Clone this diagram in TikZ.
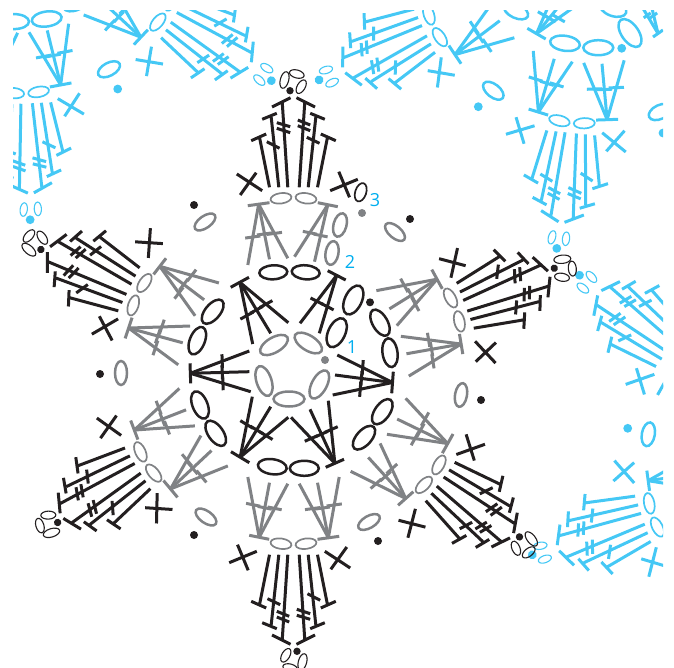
\documentclass[tikz,border=0pt]{standalone}
\usepackage{fontspec}
\setsansfont{Open Sans}
\usetikzlibrary{calc}
\definecolor{ink}{RGB}{35,31,32}
\definecolor{shade}{RGB}{128,130,133}
\definecolor{sky}{RGB}{69,200,245}
\definecolor{numblue}{RGB}{0,174,239}
\tikzset{
  stitch/.style={line width=3pt},
  thinring/.style={line width=1.1pt},
  midring/.style={line width=1.7pt},
  fatring/.style={line width=2.5pt},
  roundnum/.style={font=\sffamily\fontsize{18}{18}\selectfont, text=numblue, inner sep=0pt},
}
% one oval: centre, angle, radii
\newcommand{\ovl}[5][fatring]{\draw[#1,shift={(#2)},rotate=#3] (0,0) ellipse (#4pt and #5pt);}
% one T fan: two ends of the bar, then the feet of its stems
\newcommand{\fan}[3]{
  \coordinate (ta) at #1; \coordinate (tb) at #2;
  \coordinate (ap) at ($(ta)!.5!(tb)$);
  \draw[stitch] (ta) -- (tb);
  \foreach \ft in {#3} {
    \path \ft coordinate (bs);
    \draw[stitch] (ap) -- (bs);
    \draw[stitch] ($(ap)!.54!(bs)+.35*(ta)-.35*(tb)$) -- ($(ap)!.54!(bs)-.35*(ta)+.35*(tb)$);
  }
}
\newcommand{\blacktip}{
  \fill (-3.5,280.3) circle (3.7pt);
  \ovl[thinring]{-9,291}{75}{8.5}{4.2}
  \ovl[thinring]{3.3,297}{-15}{7.5}{4}
  \ovl[thinring]{7.7,284.3}{60}{7.5}{4}
}
\newcommand{\bluetip}{
  \fill (2,300) circle (4.4pt);
  \ovl[thinring]{-6.2,289.5}{0}{3.6}{6.8}
  \ovl[thinring]{7.9,289.5}{-10}{3.6}{6.8}
}
% one arm of a motif: [right feet] centre, angle, outer colour, inner colour, tip
\newcommand{\petal}[6][(5.7,112.7),(24,111.7),(45.7,106)]{
  \begin{scope}[shift={(#2)},rotate=#3-90,y=1pt]
    \begin{scope}[color=#5]
      \fan{(-45.7,165.3)}{(-24,168.3)}{(-45.7,106),(-24,111.7),(-5.7,112.7)}
      \fan{(24.3,168.3)}{(44.3,164.3)}{#1}
      \ovl[midring]{-12.5,172.7}{8}{10.5}{5.2}
      \ovl[midring]{12.5,172.7}{-8}{10.5}{5.2}
    \end{scope}
    \begin{scope}[color=#4]
      \foreach \s in {-1,1} {
        \begin{scope}[xscale=\s]
          \draw[stitch] (24,183.7) -- (34,233.7) (27.3,237) -- (42.3,230.3);
          \draw[stitch] (14.7,183.7) -- (22.3,253.7) (16.7,257.7) -- (31.3,251.7);
          \draw[stitch] (5.7,183.7) -- (11.3,269.3) (3,273.3) -- (21.5,264);
        \end{scope}
      }
      \draw[stitch] (-26.7,229.3) -- (-14,222.7) (13.3,233.7) -- (26,227.7);
      \draw[stitch] (-16.7,248.3) -- (-3.3,244.3) (-16.7,242.7) -- (-3.3,238.3);
      \draw[stitch] (4.3,251) -- (16.7,246) (4.3,245.3) -- (16.7,240.3);
      \draw[stitch] (-56.7,197) -- (-31.3,180.3) (-37.3,198.3) -- (-53.3,176);
      \draw[stitch] (36.7,180.3) -- (64.3,191.7) (45.3,199.3) -- (56,173.7);
      #6
    \end{scope}
  \end{scope}
}

\begin{document}
\begin{tikzpicture}[x=1pt,y=-1pt]
  \useasboundingbox (0,0) rectangle (674,668);
  \clip (13,11) rectangle (663,668);

  % ── neighbouring motifs ──────────────────────────────
  \begin{scope}[color=sky]
    \petal{589.6,-49.8}{-95.9}{sky}{sky}{\bluetip}
    \petal{589.6,-49.8}{206}{sky}{sky}{\bluetip}
    \petal{18,-80}{-87.3}{sky}{sky}{\bluetip}
    \petal{18,-80}{-32}{sky}{sky}{\bluetip}
    \petal{816.6,459}{142.6}{sky}{sky}{\bluetip}
    \petal{816.6,459}{199}{sky}{sky}{\bluetip}
    \fan{(527.3,28.3)}{(545.7,39)}{(551,0),(560,5),(577,5)}
    \fan{(653,37)}{(663,30)}{(638,0),(650,0)}
    \ovl{565,43.3}{-8}{15}{7.5}
    \ovl{598.3,47.7}{0}{15}{7.5}
    \ovl{630,33}{-55}{16}{8.5}
    \ovl{516,11}{-25}{13}{7}
    \ovl{613,8}{-20}{14}{8}
    \ovl{660,112}{25}{12}{7}
    \ovl{493.3,90.7}{-38}{12}{6.5}
    \ovl{14,21.6}{0}{15}{7.5}
    \ovl{46.7,19}{8}{15}{7.5}
    \ovl{76,2}{25}{14}{8}
    \ovl{109,69.3}{28}{12}{6.5}
    \ovl{648.3,434.3}{80}{12}{6.5}
    \foreach \p in {(621.7,48.3),(663,133),(478.3,106.7),(117.7,89),(627.7,428.3)}
      \fill \p circle (4.4pt);
  \end{scope}

  % ── six arms of the middle motif ──────────────────────
  \petal[(1,114.3),(21,109.3)]{293.5,371}{90}{ink}{shade}{\blacktip}
  \petal{293.5,371}{20.8}{ink}{shade}{\blacktip}
  \petal{293.5,371}{-37}{ink}{shade}{\blacktip}
  \petal{293.5,371}{-90}{ink}{shade}{\blacktip}
  \petal{293.5,371}{-148}{ink}{shade}{\blacktip}
  \petal{293.5,371}{153.6}{ink}{shade}{\blacktip}

  % ── round 1 ───────────────────────────────────────────
  \begin{scope}[color=shade]
    \ovl{274,345}{30}{15.5}{7.5}
    \ovl{308.3,343}{-32}{15.5}{7.5}
    \ovl{319.3,384.5}{62}{15.5}{7.5}
    \ovl{289,399}{0}{15.5}{7.5}
    \ovl{264,381}{-72}{15.5}{7.5}
    \fill (325,360) circle (4pt);
    % round 3 start and the gaps
    \fill (362,213) circle (4pt);
    \ovl{340,225}{75}{12}{6.5}
    \ovl{332,253}{80}{12}{6.5}
    \ovl{205,222}{35}{12}{6}
    \ovl{395,232}{-40}{12}{6}
    \ovl{121,373}{90}{12}{6}
    \ovl{206,517}{-35}{12}{6}
    \ovl{369,522}{30}{12}{6}
    \ovl{461,395}{80}{12}{6}
  \end{scope}

  % ── round 2 ───────────────────────────────────────────
  \begin{scope}[color=ink]
    \fan{(230.7,287.3)}{(249,277.3)}{(252.7,344),(270.7,333.3),(288.3,322.7)}
    \fan{(327.7,270.7)}{(345.7,280)}{(300,323.3),(319.3,333.3)}
    \fan{(393.3,371.7)}{(391.7,393.3)}{(337.3,355),(335,375),(332.7,395)}
    \fan{(325.7,467.3)}{(344,459.3)}{(291,417.3),(310,409.3),(328.3,400.7)}
    \fan{(231,451.7)}{(249.3,462.7)}{(252.3,396.7),(270.7,406.7),(288.3,417.3)}
    \fan{(190,363.3)}{(190.7,383.3)}{(249.3,351),(249.3,371.7),(250.7,391.7)}
    \ovl{273.3,272.3}{3}{14}{7}
    \ovl{305.7,272.3}{-5}{14}{7}
    \ovl{380,322.7}{-60}{14.5}{7.5}
    \ovl{390,352.7}{-82}{14.5}{7.5}
    \ovl{382.3,411.7}{55}{14.5}{7.5}
    \ovl{364,437.7}{48}{14.5}{7.5}
    \ovl{272.3,466.7}{-8}{14.5}{7.5}
    \ovl{304.3,468.3}{0}{14.5}{7.5}
    \ovl{215.7,433.3}{-55}{14.5}{7.5}
    \ovl{200,405}{-68}{14.5}{7.5}
    \ovl{197.3,340.7}{68}{14.5}{7.5}
    \ovl{212.7,311.7}{50}{14.5}{7.5}
    \ovl{336.7,332.7}{65}{15.5}{8.5}
    \ovl{353.3,300}{65}{15.5}{8.5}
    \ovl[midring]{360.7,192.3}{72}{9.5}{5.5}
    \foreach \p in {(370,302.3),(194,205),(410,219),(100,374),(194,535),(378,541),(481,400)}
      \fill \p circle (4pt);
  \end{scope}

  \node[roundnum] (numone) at (352,347) {1};
  \node[roundnum] (numtwo) at (350,262) {2};
  \node[roundnum] (numthree) at (375,200) {3};
\end{tikzpicture}
\end{document}
